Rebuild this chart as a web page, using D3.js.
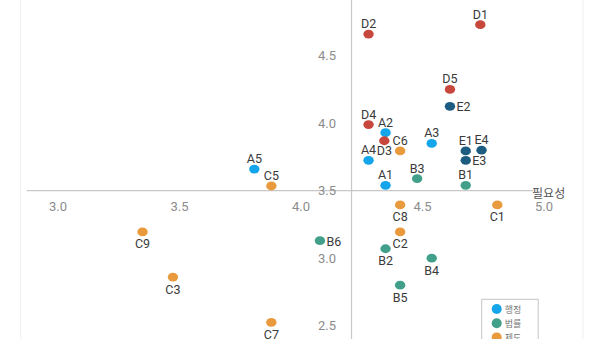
<!DOCTYPE html>
<html>
<head>
<meta charset="utf-8">
<script src="https://cdn.jsdelivr.net/npm/d3@7"></script>
<style>
  html, body { margin: 0; padding: 0; background: #fff; }
  svg { display: block; font-family: Roboto, "Noto Sans", "Noto Sans CJK KR", sans-serif; }
</style>
</head>
<body>
<svg id="chart" width="600" height="339"></svg>
<script>
// Item groups and their display names
const groups = ["A", "B", "C", "D", "E"];
const groupNames = ["행정", "법률", "제도"];

// Item codes with their 필요성 (x) and second-score (y) averages
const itemNames = ["A1", "A2", "A3", "A4", "A5",
                   "B1", "B2", "B3", "B4", "B5", "B6",
                   "C1", "C2", "C3", "C5", "C6", "C7", "C8", "C9",
                   "D1", "D2", "D3", "D4", "D5",
                   "E1", "E2", "E3", "E4"];
const needValues = [4.35, 4.35, 4.54, 4.28, 3.81,
                    4.68, 4.35, 4.48, 4.54, 4.41, 4.08,
                    4.81, 4.41, 3.475, 3.88, 4.41, 3.88, 4.41, 3.35,
                    4.74, 4.28, 4.345, 4.28, 4.615,
                    4.68, 4.615, 4.68, 4.745];
const scoreValues = [3.54, 3.93, 3.85, 3.725, 3.66,
                     3.54, 3.07, 3.59, 3.0, 2.80, 3.13,
                     3.395, 3.195, 2.86, 3.535, 3.795, 2.525, 3.395, 3.195,
                     4.73, 4.66, 3.87, 3.99, 4.25,
                     3.795, 4.125, 3.725, 3.80];

// Axis ticks
const xTicks = [3.0, 3.5, 4.0, 4.5, 5.0];
const yTicks = [2.5, 3.0, 3.5, 4.0, 4.5];
const xAxisTitle = "필요성";

const colors = {
  A: "#14a5ea",
  B: "#42a08a",
  C: "#e99a3c",
  D: "#c8473d",
  E: "#1b5c80"
};

// Where each point's label sits relative to its marker
const labelSide = {
  D3: "b", E2: "r", E3: "r", B6: "r",
  C1: "b", C2: "b", C3: "b", C7: "b", C8: "b", C9: "b",
  B2: "b", B4: "b", B5: "b"
};

const svg = d3.select("#chart");

const x = d3.scaleLinear().domain([3.0, 5.0]).range([57.5, 543.5]);
const y = d3.scaleLinear().domain([2.5, 4.5]).range([325.7, 55.7]);

const xCross = 4.21;   // value where the vertical axis crosses
const yCross = 3.5;    // value where the horizontal axis crosses

// faint outer frame lines
svg.append("line").attr("x1", 20.7).attr("x2", 20.7).attr("y1", 0).attr("y2", 339)
  .attr("stroke", "#efefef").attr("stroke-width", 1);
svg.append("line").attr("x1", 583).attr("x2", 583).attr("y1", 0).attr("y2", 339)
  .attr("stroke", "#efefef").attr("stroke-width", 1);

// horizontal axis
const xAxis = d3.axisBottom(x).tickValues(xTicks).tickFormat(d3.format(".1f"))
  .tickSize(0).tickPadding(11.5);
const gx = svg.append("g").attr("transform", `translate(0,${y(yCross)})`).call(xAxis);
gx.select(".domain").remove();
gx.selectAll("text").attr("fill", "#8c8c8c").attr("font-size", 13)
  .attr("font-family", "Roboto, 'Noto Sans', sans-serif");
svg.append("line")
  .attr("x1", x(2.873)).attr("x2", x(4.957))
  .attr("y1", y(yCross)).attr("y2", y(yCross))
  .attr("stroke", "#c8c8c8").attr("stroke-width", 1.2);

// vertical axis
const yAxis = d3.axisLeft(y).tickValues(yTicks).tickFormat(d3.format(".1f"))
  .tickSize(0).tickPadding(15.5);
const gy = svg.append("g").attr("transform", `translate(${x(xCross)},0)`).call(yAxis);
gy.select(".domain").remove();
gy.selectAll("text").attr("fill", "#8c8c8c").attr("font-size", 13)
  .attr("font-family", "Roboto, 'Noto Sans', sans-serif");
svg.append("line")
  .attr("x1", x(xCross)).attr("x2", x(xCross))
  .attr("y1", 0).attr("y2", 339)
  .attr("stroke", "#c8c8c8").attr("stroke-width", 1.2);

// axis title at the right end of the horizontal axis
svg.append("text")
  .attr("x", x(4.957) - 1).attr("y", y(yCross) + 3)
  .attr("dominant-baseline", "central")
  .attr("fill", "#555").attr("font-size", 12)
  .text(xAxisTitle);

// build point records
const points = itemNames.map((n, i) => ({
  name: n, group: n[0], vx: needValues[i], vy: scoreValues[i]
}));

// markers
svg.append("g").selectAll("ellipse").data(points).join("ellipse")
  .attr("cx", d => x(d.vx)).attr("cy", d => y(d.vy))
  .attr("rx", 5.2).attr("ry", 4.4)
  .attr("fill", d => colors[d.group]);

// point labels
svg.append("g").selectAll("text").data(points).join("text")
  .attr("font-size", 12.5).attr("fill", "#3a3a3a")
  .attr("dominant-baseline", "central")
  .each(function(d) {
    const side = labelSide[d.name] || "t";
    const t = d3.select(this);
    const cx = x(d.vx), cy = y(d.vy);
    if (side === "t") {
      t.attr("x", cx).attr("y", cy - 10.5).attr("text-anchor", "middle");
    } else if (side === "b") {
      t.attr("x", cx).attr("y", cy + (d.name === "D3" ? 10 : 12)).attr("text-anchor", "middle");
    } else {
      t.attr("x", cx + 6.5).attr("y", cy + 0.5).attr("text-anchor", "start");
    }
  })
  .text(d => d.name);

// legend
const lg = svg.append("g").attr("transform", "translate(481.7,299.3)");
lg.append("rect").attr("x", 0).attr("y", 0).attr("width", 56.5).attr("height", 60)
  .attr("fill", "#fff").attr("stroke", "#c4c4c4").attr("stroke-width", 1);
groupNames.forEach((name, i) => {
  const row = lg.append("g").attr("transform", `translate(0,${9.7 + i * 14.2})`);
  row.append("circle").attr("cx", 15).attr("cy", 0).attr("r", 5)
    .attr("fill", colors[groups[i]]);
  row.append("text").attr("x", 23).attr("y", 0.5)
    .attr("dominant-baseline", "central")
    .attr("font-size", 9).attr("fill", "#777")
    .attr("font-family", "'Noto Sans CJK KR', sans-serif")
    .text(name);
});
</script>
</body>
</html>
